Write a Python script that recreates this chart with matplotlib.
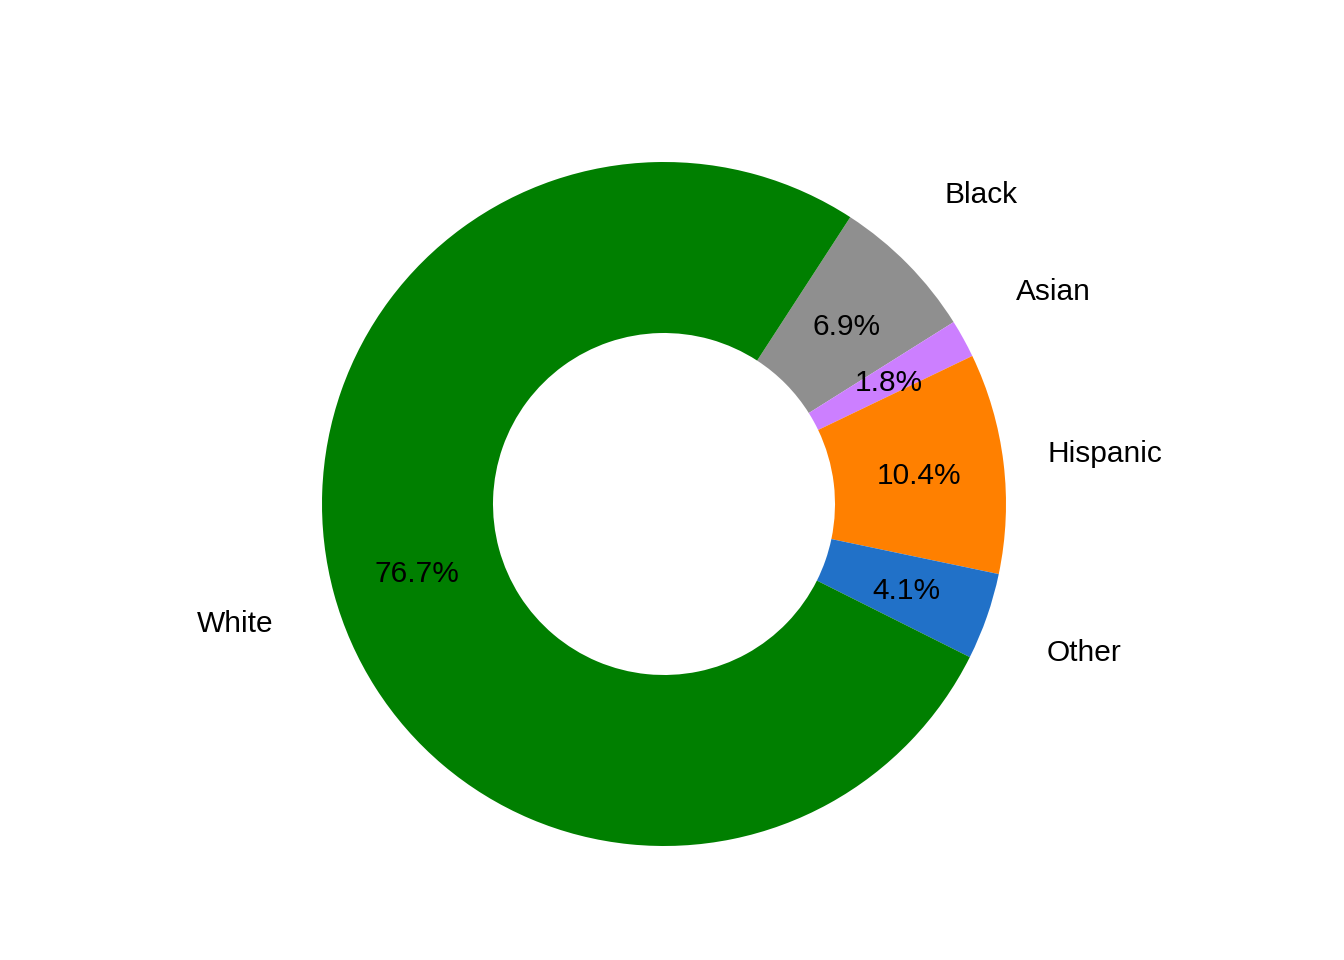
import matplotlib
matplotlib.use('Agg')
from matplotlib import pyplot as plt

plt.rcParams['font.family'] = ['Liberation Sans', 'DejaVu Sans']

groups = ['Black', 'Asian', 'Hispanic', 'Other', 'White']
shares = [6.9, 1.8, 10.4, 4.1, 76.7]
colors = ['#8f8f8f', '#cc7fff', '#ff8000', '#2171c8', '#007f00']

total = sum(shares)

fig = plt.figure(figsize=(13.44, 9.6), dpi=100)
ax = fig.add_axes([322/1344, 114/960, 684/1344, 684/960])

wedges, texts, autotexts = ax.pie(
    shares, labels=groups, colors=colors, startangle=57, counterclock=False,
    radius=1, labeldistance=1.3, pctdistance=0.75,
    autopct=lambda p: '%.1f%%' % (p * total / 100),
    wedgeprops=dict(width=0.5, linewidth=0),
    textprops=dict(fontsize=21.5, color='black'))
for t in texts + autotexts:
    t.set_horizontalalignment('center')
    t.set_verticalalignment('center_baseline')

ax.set_xlim(-1, 1)
ax.set_ylim(-1, 1)
ax.set_aspect('equal')
ax.axis('off')

fig.savefig('out.png', dpi=100)
